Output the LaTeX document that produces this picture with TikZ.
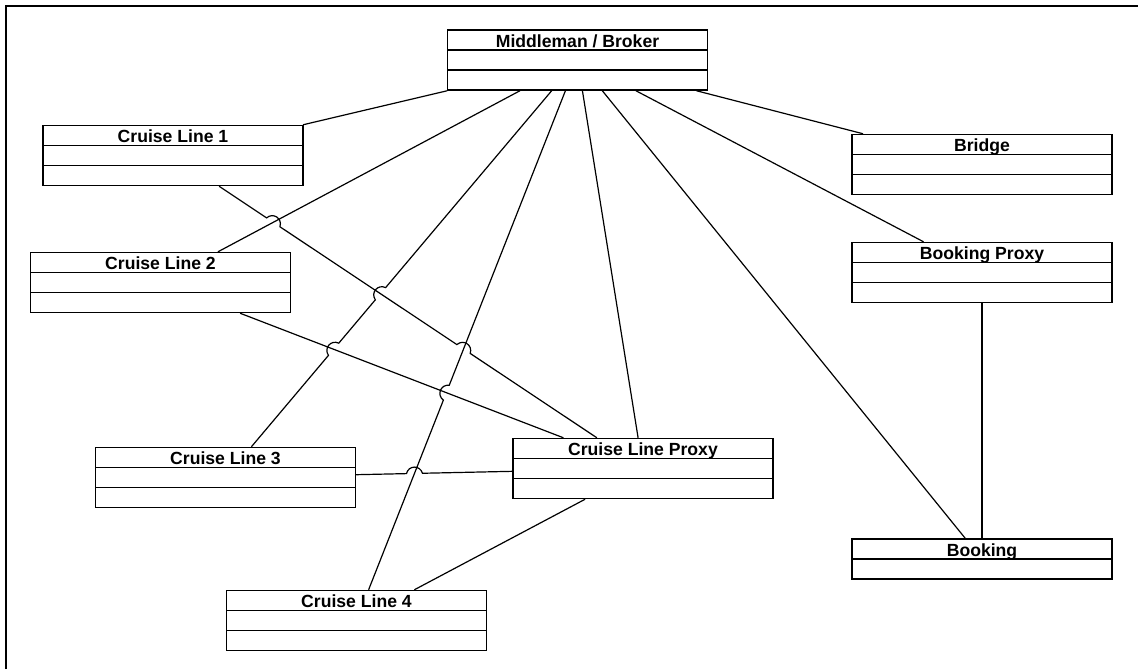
\documentclass[tikz,border=0pt]{standalone}
\usepackage{fontspec}
\setmainfont{Liberation Sans}
\usetikzlibrary{calc,intersections}
\tikzset{classbox/.style={draw,line width=1.1pt,inner sep=0pt,minimum width=195pt,text height=12.75pt,text depth=32.25pt,font=\fontsize{13.2}{15}\selectfont\bfseries,
  path picture={\foreach \f in {#1}{\draw[line width=1.1pt] ($(path picture bounding box.north west)!\f!(path picture bounding box.south west)$)--($(path picture bounding box.north east)!\f!(path picture bounding box.south east)$);}}},
  classbox/.default={0.3333,0.6667},
  link/.style={line width=.9pt},
  hopl/.style={bend left=75,looseness=1.4},hopr/.style={bend right=75,looseness=1.4}}

\begin{document}
\begin{tikzpicture}[x=.75pt,y=-.75pt]
\useasboundingbox (0,0) rectangle (1138,669);
\draw[line width=2pt] (6,669)--(6,6)--(1138,6);
\node[classbox] (mid) at (577.5,60){Middleman / Broker};
\node[classbox] (cl1) at (173,155.5){Cruise Line 1};
\node[classbox] (cl2) at (160.5,282.5){Cruise Line 2};
\node[classbox] (cl3) at (225.5,477.5){Cruise Line 3};
\node[classbox] (cl4) at (356.5,620.5){Cruise Line 4};
\node[classbox] (clp) at (643,468.5){Cruise Line Proxy};
\node[classbox] (bridge) at (982,164.5){Bridge};
\node[classbox] (bproxy) at (982,272.5){Booking Proxy};
\node[classbox=0.5,text depth=17.25pt] (booking) at (982,559){Booking};
% plain links
\draw[link] (mid)--(cl1); \draw[link] (mid)--(clp); \draw[link] (mid)--(bridge);
\draw[link] (mid)--(bproxy); \draw[link] (mid)--(booking); \draw[link] (bproxy)--(booking);
\draw[link] (clp)--(cl4);
\draw[link,name path=m2] (mid)--(cl2); \draw[link,name path=c2p] (cl2)--(clp);
% links with hops
\path[name path=m3] (mid)--(cl3); \path[name path=m4] (mid)--(cl4);
\path[name path=c1p] (cl1)--(clp); \path[name path=c3p] (cl3)--(clp);
\path[name intersections={of=c1p and m2,by=x1}]; \path[name intersections={of=m3 and c1p,by=x2}];
\path[name intersections={of=m3 and c2p,by=x3}]; \path[name intersections={of=c1p and m4,by=x4}];
\path[name intersections={of=m4 and c2p,by=x5}]; \path[name intersections={of=c3p and m4,by=x6}];
\draw[link] (cl1)--($(x1)!6pt!(cl1)$) to[hopl] ($(x1)!6pt!(clp)$)--($(x4)!6pt!(cl1)$) to[hopl] ($(x4)!6pt!(clp)$)--(clp);
\draw[link] (mid)--($(x2)!6pt!(mid)$) to[hopr] ($(x2)!6pt!(cl3)$)--($(x3)!6pt!(mid)$) to[hopr] ($(x3)!6pt!(cl3)$)--(cl3);
\draw[link] (mid)--($(x5)!6pt!(mid)$) to[hopr] ($(x5)!6pt!(cl4)$)--(cl4);
\draw[link] (cl3)--($(x6)!6pt!(cl3)$) to[hopl] ($(x6)!6pt!(clp)$)--(clp);
\end{tikzpicture}
\end{document}
